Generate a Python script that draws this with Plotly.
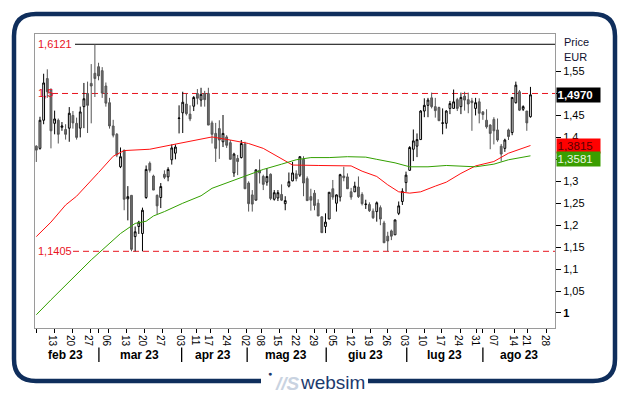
import plotly.graph_objects as go

# ---------------- data ----------------
opens = [1.380, 1.375, 1.439, 1.534, 1.508, 1.432, 1.439, 1.423, 1.418, 1.421,
         1.450, 1.432, 1.421, 1.470, 1.500, 1.523, 1.546, 1.561, 1.552, 1.517,
         1.479, 1.426, 1.407, 1.333, 1.371, 1.260, 1.268, 1.174, 1.197, 1.181,
         1.263, 1.341, 1.312, 1.268, 1.263, 1.316, 1.310, 1.349, 1.364, 1.443,
         1.456, 1.476, 1.453, 1.471, 1.500, 1.485, 1.500, 1.500, 1.433, 1.409,
         1.420, 1.390, 1.401, 1.388, 1.319, 1.352, 1.354, 1.385, 1.296, 1.269,
         1.257, 1.325, 1.311, 1.298, 1.316, 1.259, 1.262, 1.270, 1.249, 1.289,
         1.301, 1.317, 1.314, 1.350, 1.306, 1.265, 1.273, 1.250, 1.219, 1.197,
         1.214, 1.283, 1.250, 1.264, 1.312, 1.310, 1.276, 1.276, 1.287, 1.270,
         1.247, 1.247, 1.232, 1.231, 1.240, 1.205, 1.175, 1.187, 1.178, 1.227,
         1.254, 1.297, 1.325, 1.373, 1.380, 1.395, 1.460, 1.473, 1.490, 1.470,
         1.468, 1.432, 1.432, 1.466, 1.466, 1.486, 1.470, 1.494, 1.486, 1.483,
         1.466, 1.481, 1.458, 1.439, 1.428, 1.441, 1.417, 1.380, 1.375, 1.417,
         1.411, 1.479, 1.504, 1.464, 1.460, 1.447]
highs = [1.382, 1.447, 1.545, 1.555, 1.512, 1.461, 1.443, 1.435, 1.430, 1.469,
         1.460, 1.445, 1.470, 1.524, 1.527, 1.567, 1.6121, 1.570, 1.560, 1.525,
         1.490, 1.440, 1.410, 1.377, 1.371, 1.289, 1.268, 1.197, 1.210, 1.240,
         1.336, 1.345, 1.315, 1.270, 1.296, 1.325, 1.332, 1.384, 1.384, 1.473,
         1.504, 1.500, 1.473, 1.494, 1.510, 1.513, 1.506, 1.513, 1.438, 1.433,
         1.439, 1.451, 1.405, 1.394, 1.365, 1.360, 1.394, 1.390, 1.300, 1.280,
         1.327, 1.350, 1.315, 1.330, 1.318, 1.280, 1.280, 1.293, 1.266, 1.320,
         1.344, 1.325, 1.357, 1.357, 1.311, 1.283, 1.280, 1.259, 1.220, 1.227,
         1.275, 1.303, 1.270, 1.317, 1.333, 1.318, 1.285, 1.299, 1.311, 1.275,
         1.258, 1.252, 1.238, 1.254, 1.245, 1.210, 1.185, 1.190, 1.213, 1.254,
         1.284, 1.322, 1.380, 1.418, 1.409, 1.462, 1.489, 1.490, 1.502, 1.490,
         1.470, 1.466, 1.462, 1.483, 1.509, 1.490, 1.502, 1.504, 1.502, 1.490,
         1.490, 1.489, 1.460, 1.464, 1.430, 1.446, 1.443, 1.385, 1.397, 1.420,
         1.492, 1.527, 1.508, 1.473, 1.460, 1.515]
lows = [1.344, 1.372, 1.430, 1.490, 1.375, 1.407, 1.386, 1.415, 1.395, 1.390,
        1.420, 1.395, 1.400, 1.421, 1.410, 1.432, 1.492, 1.530, 1.490, 1.470,
        1.420, 1.400, 1.355, 1.330, 1.234, 1.211, 1.1405, 1.1405, 1.180, 1.1405,
        1.260, 1.320, 1.280, 1.225, 1.239, 1.305, 1.300, 1.338, 1.350, 1.409,
        1.410, 1.450, 1.437, 1.460, 1.475, 1.470, 1.470, 1.428, 1.386, 1.344,
        1.351, 1.378, 1.376, 1.350, 1.310, 1.314, 1.352, 1.283, 1.231, 1.231,
        1.257, 1.295, 1.280, 1.290, 1.257, 1.256, 1.255, 1.255, 1.234, 1.286,
        1.300, 1.300, 1.310, 1.266, 1.256, 1.233, 1.234, 1.221, 1.183, 1.182,
        1.214, 1.258, 1.231, 1.254, 1.300, 1.283, 1.258, 1.276, 1.262, 1.245,
        1.237, 1.230, 1.214, 1.208, 1.200, 1.160, 1.1405, 1.166, 1.178, 1.223,
        1.246, 1.276, 1.324, 1.346, 1.355, 1.395, 1.446, 1.446, 1.466, 1.445,
        1.438, 1.407, 1.420, 1.453, 1.466, 1.460, 1.453, 1.461, 1.455, 1.415,
        1.450, 1.432, 1.440, 1.420, 1.373, 1.384, 1.390, 1.345, 1.367, 1.394,
        1.405, 1.477, 1.460, 1.460, 1.415, 1.445]
closes = [1.371, 1.439, 1.524, 1.504, 1.415, 1.442, 1.407, 1.426, 1.407, 1.455,
          1.433, 1.400, 1.458, 1.488, 1.473, 1.517, 1.534, 1.540, 1.501, 1.478,
          1.426, 1.405, 1.360, 1.356, 1.259, 1.265, 1.145, 1.185, 1.207, 1.234,
          1.327, 1.325, 1.280, 1.244, 1.288, 1.309, 1.327, 1.376, 1.378, 1.444,
          1.480, 1.454, 1.442, 1.491, 1.489, 1.498, 1.486, 1.428, 1.407, 1.375,
          1.394, 1.409, 1.382, 1.350, 1.362, 1.345, 1.386, 1.283, 1.249, 1.248,
          1.326, 1.319, 1.293, 1.311, 1.261, 1.274, 1.274, 1.257, 1.256, 1.299,
          1.319, 1.306, 1.356, 1.296, 1.256, 1.257, 1.245, 1.221, 1.183, 1.207,
          1.275, 1.264, 1.269, 1.315, 1.308, 1.283, 1.264, 1.289, 1.265, 1.249,
          1.248, 1.233, 1.217, 1.251, 1.214, 1.160, 1.164, 1.175, 1.212, 1.244,
          1.277, 1.314, 1.377, 1.392, 1.395, 1.460, 1.473, 1.485, 1.470, 1.461,
          1.438, 1.433, 1.460, 1.477, 1.481, 1.466, 1.491, 1.485, 1.476, 1.479,
          1.479, 1.455, 1.452, 1.424, 1.409, 1.415, 1.394, 1.362, 1.394, 1.402,
          1.491, 1.519, 1.462, 1.470, 1.433, 1.497]
session = list(range(len(closes)))

# moving averages
ma_red_idx = [0, 4, 8, 11, 17, 21, 24, 31, 37, 45, 48, 53, 58, 62, 67, 70, 77, 86, 89,
              93, 96, 99, 102, 105, 109, 112, 116, 120, 125, 129, 135]
ma_red_val = [1.174, 1.207, 1.246, 1.266, 1.320, 1.357, 1.370, 1.373, 1.383, 1.396,
              1.401, 1.394, 1.386, 1.375, 1.352, 1.337, 1.336, 1.335, 1.323, 1.311,
              1.292, 1.276, 1.273, 1.276, 1.289, 1.298, 1.318, 1.335, 1.345, 1.364, 1.3815]
ma_green_idx = [0, 4, 15, 23, 27, 30, 32, 35, 40, 45, 48, 53, 58, 62, 67, 71, 75, 80, 85,
                90, 93, 98, 102, 107, 112, 120, 125, 129, 135]
ma_green_val = [0.996, 1.030, 1.121, 1.181, 1.204, 1.209, 1.221, 1.231, 1.250, 1.267,
                1.284, 1.299, 1.314, 1.327, 1.339, 1.349, 1.354, 1.354, 1.356, 1.355,
                1.350, 1.342, 1.333, 1.333, 1.336, 1.333, 1.339, 1.349, 1.358]

level_high = 1.6121
level_mid = 1.5
level_low = 1.1405
last_price = 1.4970
ma_red_last = 1.3815
ma_green_last = 1.3581

# axis ticks
x_tick_pos = [0, 4.9, 9.85, 14.7, 17.1, 19.7, 24.7, 29.5, 34.4, 39.7, 43.8, 47.5, 52.5,
              57.5, 61.6, 66.4, 71.1, 76.1, 79.2, 81.4, 86.3, 91.2, 96.0, 101.0, 106.0,
              110.8, 115.8, 120.3, 121.8, 125.3, 130.7, 134.3, 139.5]
x_tick_txt = ["", "13", "20", "27", "", "06", "13", "20", "27", "03", "11", "17", "24",
              "02", "08", "15", "22", "29", "", "05", "12", "19", "26", "03", "10",
              "17", "24", "31", "", "07", "14", "21", "28"]
month_names = ["feb 23", "mar 23", "apr 23", "mag 23", "giu 23", "lug 23", "ago 23"]
month_centers = [8.0, 28.1, 48.3, 68.1, 89.8, 111.4, 131.9]
month_breaks = [17.1, 39.7, 57.6, 79.2, 101.2, 122.0]
y_tick_vals = [1.0, 1.05, 1.1, 1.15, 1.2, 1.25, 1.3, 1.35, 1.4, 1.45, 1.5, 1.55]
# labels for 1,35 and 1,5 sit under the price boxes in the reference
y_tick_txt = ["<b>1</b>", "1,05", "1,1", "1,15", "1,2", "1,25", "1,3", "", "1,4",
              "1,45", "", "1,55"]

def fmt(v):
    return ("%.4f" % v).rstrip("0").rstrip(".").replace(".", ",")

# ---------------- layout geometry ----------------
W, H = 629, 395
PL, PR, PT, PB = 35, 555, 34, 328
FONT = "Liberation Sans, Arial, sans-serif"

def px(x):
    return (x - PL) / (PR - PL)

def py(y):
    return (PB - y) / (PB - PT)

fig = go.Figure()
fig.add_trace(go.Candlestick(
    x=session, open=opens, high=highs, low=lows, close=closes,
    increasing=dict(line=dict(color="#000000", width=1), fillcolor="#ffffff"),
    decreasing=dict(line=dict(color="#555555", width=1), fillcolor="#6e6e6e"),
    whiskerwidth=0, showlegend=False, hoverinfo="skip"))
fig.add_trace(go.Scatter(x=ma_red_idx, y=ma_red_val, mode="lines",
                         line=dict(color="#ff1010", width=1), showlegend=False, hoverinfo="skip"))
fig.add_trace(go.Scatter(x=ma_green_idx, y=ma_green_val, mode="lines",
                         line=dict(color="#33a000", width=1), showlegend=False, hoverinfo="skip"))

shapes = []
shapes.append(dict(type="line", xref="paper", yref="y", x0=px(75), x1=1, y0=level_high, y1=level_high,
                   line=dict(color="#000000", width=1), layer="below"))
shapes.append(dict(type="line", xref="paper", yref="y", x0=px(52), x1=1, y0=level_mid, y1=level_mid,
                   line=dict(color="#e8141e", width=1, dash="6px,4px"), layer="below"))
shapes.append(dict(type="line", xref="paper", yref="y", x0=px(73), x1=1, y0=level_low, y1=level_low,
                   line=dict(color="#e8141e", width=1, dash="6px,4px"), layer="below"))
for b in month_breaks:
    shapes.append(dict(type="line", xref="x", yref="paper", x0=b, x1=b, y0=py(362), y1=py(347.5),
                       line=dict(color="#000000", width=1.3)))

# outer rounded frame with a gap for the logo
xl, xr, yt, yb, r = 14, 615, 14, 381, 22
gl, gr = 261, 368
def P(x, y):
    return "%.5f,%.5f" % (px(x), py(y))
path = ("M" + P(gr, yb) + " L" + P(xr - r, yb) + " Q" + P(xr, yb) + " " + P(xr, yb - r) +
        " L" + P(xr, yt + r) + " Q" + P(xr, yt) + " " + P(xr - r, yt) +
        " L" + P(xl + r, yt) + " Q" + P(xl, yt) + " " + P(xl, yt + r) +
        " L" + P(xl, yb - r) + " Q" + P(xl, yb) + " " + P(xl + r, yb) +
        " L" + P(gl, yb))
shapes.append(dict(type="path", xref="paper", yref="paper", path=path,
                   line=dict(color="#0f2e5c", width=4.5)))

ann = []
for val in (level_high, level_mid, level_low):
    ann.append(dict(xref="paper", yref="y", x=px(36), y=val, xanchor="left", yanchor="middle",
                    text=fmt(val), showarrow=False, font=dict(family=FONT, size=11, color="#e8141e")))
for m, c in zip(month_names, month_centers):
    ann.append(dict(xref="x", yref="paper", x=c, y=py(355), xanchor="center", yanchor="middle",
                    text="<b>" + m + "</b>", showarrow=False,
                    font=dict(family=FONT, size=12, color="#000000")))
ann.append(dict(xref="paper", yref="paper", x=px(562), y=py(42), xanchor="left", yanchor="middle",
                text="Price", showarrow=False, font=dict(family=FONT, size=11, color="#101030")))
ann.append(dict(xref="paper", yref="paper", x=px(562), y=py(57), xanchor="left", yanchor="middle",
                text="EUR", showarrow=False, font=dict(family=FONT, size=11, color="#101030")))
boxes = [(last_price, "#000000", "#ffffff", 0, True),
         (ma_red_last, "#ff0000", "#5a0000", 0, False),
         (ma_green_last, "#3a9e00", "#eaf6e0", -3, False)]
for val, bg, fg, shift, bold in boxes:
    t = ("%.4f" % val).replace(".", ",")
    if bold:
        t = "<b>" + t + "</b>"
    ann.append(dict(xref="paper", yref="y", x=px(556), y=val, yshift=shift, xanchor="left",
                    yanchor="middle", text=t, showarrow=False, bgcolor=bg, width=42, height=13,
                    align="left", borderpad=0.5,
                    font=dict(family=FONT, size=11.5, color=fg)))
# logo
ann.append(dict(xref="paper", yref="paper", x=px(270), y=py(373), xanchor="center", yanchor="middle",
                text="\u25cf", showarrow=False, font=dict(family=FONT, size=7, color="#1c3a6e")))
ann.append(dict(xref="paper", yref="paper", x=px(287), y=py(383), xanchor="center", yanchor="middle",
                text="<b><i>//S</i></b>", showarrow=False, font=dict(family=FONT, size=19, color="#c9d3e1")))
ann.append(dict(xref="paper", yref="paper", x=px(332), y=py(382.5), xanchor="center", yanchor="middle",
                text="websim", showarrow=False, font=dict(family=FONT, size=19, color="#1c3a6e")))

fig.update_layout(
    width=W, height=H, margin=dict(l=PL, r=W - PR, t=PT, b=H - PB, pad=0),
    paper_bgcolor="#ffffff", plot_bgcolor="#ffffff",
    shapes=shapes, annotations=ann, showlegend=False,
    font=dict(family=FONT, size=10, color="#000000"),
    xaxis=dict(range=[-0.36, 141.7], tickmode="array", tickvals=x_tick_pos, ticktext=x_tick_txt,
               ticks="outside", ticklen=4, tickwidth=1, tickcolor="#000000",
               ticklabelstandoff=-5,
               tickfont=dict(family=FONT, size=10, color="#000000"),
               showgrid=False, zeroline=False, showline=True, linecolor="#9a9a9a", linewidth=1,
               mirror=True, rangeslider=dict(visible=False), fixedrange=True),
    yaxis=dict(range=[0.9658, 1.6355], side="right", tickmode="array", tickvals=y_tick_vals,
               ticktext=y_tick_txt, ticks="outside", ticklen=5, tickwidth=1, tickcolor="#000000",
               tickfont=dict(family=FONT, size=11, color="#000000"),
               showgrid=False, zeroline=False, showline=True, linecolor="#9a9a9a", linewidth=1,
               mirror=True, fixedrange=True),
)

fig.write_html("out.html", config={"displayModeBar": False},
               post_script="document.body.style.margin='0';document.body.style.overflow='hidden';")
